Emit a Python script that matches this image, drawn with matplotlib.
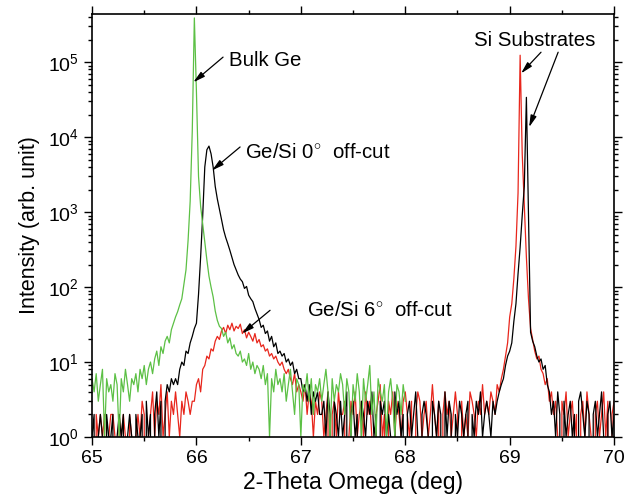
import numpy as np
import matplotlib
matplotlib.use("Agg")
import matplotlib.pyplot as plt
from matplotlib.ticker import LogLocator, FixedLocator, MultipleLocator, FuncFormatter, NullFormatter

plt.rcParams['font.family'] = ['Liberation Sans', 'DejaVu Sans']
plt.rcParams['mathtext.fontset'] = 'custom'
plt.rcParams['mathtext.rm'] = 'Liberation Sans'
plt.rcParams['mathtext.it'] = 'Liberation Sans'

# scan angles (deg), step 0.02
two_theta = np.round(np.arange(65.0, 70.001, 0.02), 2)

# Bulk Ge, scanned 65 - 68 deg
bulk_ge = [
    6, 4, 7, 3, 5, 8, 1, 6, 4, 5,
    3, 7, 5, 1, 6, 4, 8, 5, 3, 6,
    5, 7, 4, 8, 6, 9, 5, 8, 10, 7,
    11, 14, 9, 16, 13, 19, 22, 18, 27, 33,
    40, 47, 58, 70, 110, 170, 420, 1400, 12000, 390000,
    40000, 3000, 1200, 700, 400, 230, 140, 100, 74, 48,
    36, 30, 28, 22, 25, 18, 21, 15, 17, 13,
    12, 14, 10, 11, 9, 13, 8, 10, 7, 9,
    8, 6, 9, 5, 7, 1, 6, 4, 8, 5,
    6, 4, 7, 3, 5, 8, 4, 2, 6, 5,
    1, 5, 4, 7, 3, 6, 2, 5, 4, 6,
    3, 5, 8, 4, 1, 6, 3, 5, 4, 7,
    5, 2, 6, 4, 1, 5, 3, 7, 4, 1,
    6, 3, 5, 9, 2, 4, 1, 6, 4, 3,
    5, 1, 4, 6, 3, 1, 5, 4, 2, 5,
    3,
]

# Ge/Si 0 deg off-cut
gesi_0 = [
    1, 2, 0, 1, 2, 1, 0, 2, 1, 1,
    2, 0, 1, 2, 1, 2, 0, 1, 2, 1,
    0, 2, 1, 1, 2, 0, 3, 1, 2, 0,
    2, 4, 1, 3, 0, 3, 5, 4, 6, 5,
    6, 5, 8, 10, 9, 14, 13, 18, 22, 28,
    33, 80, 250, 900, 4000, 6800, 7600, 6000, 4000, 2200,
    1500, 1100, 800, 580, 460, 380, 310, 250, 200, 170,
    145, 128, 118, 96, 102, 78, 70, 64, 52, 44,
    37, 29, 31, 24, 26, 19, 22, 16, 18, 13,
    14, 12, 13, 10, 11, 9, 10, 7, 8, 6,
    6, 4, 5, 3, 5, 2, 4, 3, 4, 2,
    2, 3, 1, 4, 2, 0, 3, 2, 1, 3,
    1, 2, 4, 0, 2, 3, 1, 2, 0, 3,
    2, 1, 3, 2, 4, 1, 2, 0, 3, 2,
    3, 1, 2, 1, 0, 4, 2, 3, 1, 2,
    0, 2, 3, 1, 2, 4, 1, 0, 2, 3,
    2, 1, 0, 3, 2, 1, 3, 2, 0, 4,
    1, 3, 2, 0, 2, 1, 3, 2, 1, 2,
    3, 0, 2, 1, 3, 2, 4, 1, 2, 3,
    2, 1, 3, 2, 3, 4, 5, 6, 9, 12,
    14, 18, 35, 60, 150, 340, 900, 2200, 34000, 900,
    25, 19, 16, 12, 10, 11, 8, 9, 5, 4,
    2, 3, 1, 4, 2, 0, 3, 1, 2, 3,
    1, 2, 0, 3, 4, 2, 1, 3, 2, 0,
    2, 3, 1, 2, 4, 1, 0, 2, 3, 1,
    2,
]

# Ge/Si 6 deg off-cut
gesi_6 = [
    1, 0, 2, 1, 2, 1, 2, 0, 1, 2,
    2, 1, 0, 2, 1, 2, 1, 0, 2, 1,
    0, 1, 2, 1, 3, 2, 0, 1, 2, 4,
    1, 3, 2, 5, 1, 2, 4, 1, 3, 2,
    4, 2, 1, 3, 2, 4, 3, 2, 3, 3,
    5, 6, 4, 8, 9, 12, 11, 15, 14, 19,
    22, 20, 26, 29, 24, 31, 27, 33, 26, 30,
    28, 32, 24, 27, 21, 25, 22, 19, 24, 18,
    20, 16, 17, 14, 15, 12, 13, 11, 12, 10,
    9, 10, 8, 7, 8, 6, 5, 7, 4, 5,
    4, 3, 5, 2, 4, 3, 1, 3, 2, 4,
    3, 1, 2, 4, 0, 2, 3, 1, 4, 2,
    2, 3, 0, 1, 3, 2, 4, 1, 2, 3,
    1, 4, 2, 3, 1, 0, 2, 3, 5, 1,
    2, 0, 3, 2, 4, 1, 3, 2, 1, 3,
    4, 2, 1, 3, 0, 2, 4, 3, 1, 2,
    3, 1, 2, 5, 2, 1, 3, 0, 2, 4,
    2, 3, 1, 2, 4, 2, 0, 3, 1, 2,
    1, 4, 3, 2, 1, 3, 2, 5, 2, 3,
    2, 4, 3, 2, 5, 4, 6, 8, 12, 18,
    40, 60, 130, 350, 1800, 124000, 6000, 1200, 250, 70,
    28, 20, 14, 11, 12, 8, 7, 5, 6, 3,
    4, 2, 3, 1, 0, 3, 2, 4, 1, 2,
    3, 1, 2, 0, 2, 3, 1, 4, 2, 1,
    0, 2, 3, 1, 2, 4, 1, 3, 0, 2,
    3,
]

fig = plt.figure(figsize=(6.26, 5.0), dpi=100)
ax = fig.add_axes([0.147, 0.126, 0.834, 0.846])

ax.plot(two_theta[:len(gesi_6)], gesi_6, color='#e8261c', lw=0.9)
ax.plot(two_theta[:len(gesi_0)], gesi_0, color='black', lw=0.9)
ax.plot(two_theta[:len(bulk_ge)], bulk_ge, color='#5cc045', lw=0.9)

ax.set_yscale('log')
ax.set_xlim(65, 70)
ax.set_ylim(1, 4.4e5)

ax.xaxis.set_major_locator(MultipleLocator(1))
ax.xaxis.set_minor_locator(MultipleLocator(0.5))
ax.yaxis.set_major_locator(FixedLocator([1, 10, 100, 1e3, 1e4, 1e5]))
ax.yaxis.set_minor_locator(LogLocator(base=10, subs=np.arange(2, 10), numticks=20))
ax.yaxis.set_major_formatter(FuncFormatter(lambda v, p: r'$10^{%d}$' % round(np.log10(v))))
ax.yaxis.set_minor_formatter(NullFormatter())

ax.tick_params(which='both', direction='out', top=True, right=True, labelsize=14, width=1)
ax.tick_params(which='major', length=6)
ax.tick_params(which='minor', length=3)
for s in ax.spines.values():
    s.set_linewidth(1.2)

ax.set_xlabel('2-Theta Omega (deg)', fontsize=16.5, labelpad=3)
ax.set_ylabel('Intensity (arb. unit)', fontsize=15.5, labelpad=6)

arrow = dict(arrowstyle='-|>,head_length=0.7,head_width=0.18', color='black', lw=0.9, shrinkA=0, shrinkB=0)

ax.text(66.31, 1.06e5, 'Bulk Ge', fontsize=14.7, va='center', ha='left')
ax.annotate('', xy=(65.97, 5.4e4), xytext=(66.255, 1.17e5), arrowprops=arrow)

ax.text(66.466, 6.3e3, r'Ge/Si 0$^{\circ}$  off-cut', fontsize=14.7, va='center', ha='left')
ax.annotate('', xy=(66.149, 3.6e3), xytext=(66.418, 7.4e3), arrowprops=arrow)

ax.text(67.06, 48, r'Ge/Si 6$^{\circ}$  off-cut', fontsize=14.7, va='center', ha='left')
ax.annotate('', xy=(66.437, 24), xytext=(66.705, 49), arrowprops=arrow)

ax.text(68.66, 1.97e5, 'Si Substrates', fontsize=14.7, va='center', ha='left')
ax.annotate('', xy=(69.109, 7.1e4), xytext=(69.30, 1.36e5), arrowprops=arrow)
ax.annotate('', xy=(69.186, 1.36e4), xytext=(69.464, 1.36e5), arrowprops=arrow)

fig.savefig('out.png', dpi=100)
